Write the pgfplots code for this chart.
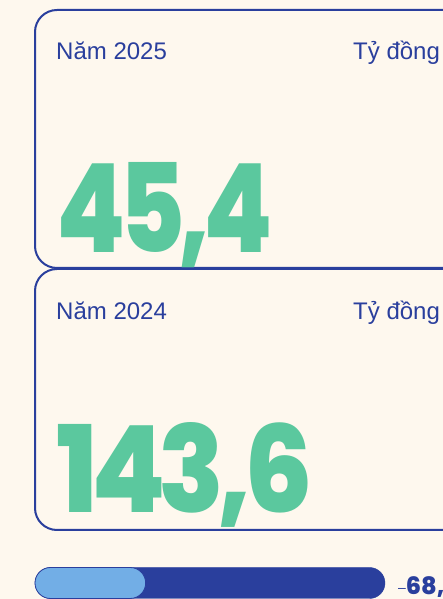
\documentclass[border=0pt]{standalone}
\usepackage{pgfplots}
\pgfplotsset{compat=1.18}
\usepackage{fontspec}
\setmainfont{Liberation Sans}
\newfontfamily\heavy{Poppins ExtraBold}
\definecolor{bgcream}{HTML}{FEF8EE}
\definecolor{navy}{HTML}{2A3F9D}
\definecolor{mint}{HTML}{5BC89E}
\definecolor{sky}{HTML}{72AEE6}

% y of a pixel row counted from the top
\newcommand{\py}[1]{599-#1}
\newcommand{\tk}{\kern-0.065em}

\begin{document}
\begin{tikzpicture}[x=1pt,y=1pt]
\useasboundingbox (0,0) rectangle (443,599);
\clip (0,0) rectangle (443,599);
\fill[bgcream] (-5,-5) rectangle (450,605);

% the two cards
\draw[navy, line width=2pt, rounded corners=22pt]
  (35,{\py{268}}) rectangle (480,{\py{10}});
\draw[navy, line width=2pt, rounded corners=22pt]
  (35,{\py{530}}) rectangle (480,{\py{269}});

\node[anchor=base west, text=navy, font=\fontsize{24}{28}\selectfont, inner sep=0]
  at (56,{\py{60}}) {Năm 2025};
\node[anchor=base west, text=navy, font=\fontsize{24}{28}\selectfont, inner sep=0]
  at (353,{\py{60}}) {Tỷ đồng};
\node[anchor=base west, text=navy, font=\fontsize{24}{28}\selectfont, inner sep=0]
  at (56,{\py{320}}) {Năm 2024};
\node[anchor=base west, text=navy, font=\fontsize{24}{28}\selectfont, inner sep=0]
  at (353,{\py{320}}) {Tỷ đồng};

\node[anchor=base west, text=mint, inner sep=0] at (56,{\py{253}})
  {\resizebox{217pt}{90pt}{\heavy 4\tk5\tk,\tk4}};
\node[anchor=base west, text=mint, inner sep=0] at (56,{\py{513}})
  {\resizebox{257pt}{90pt}{\heavy 1\tk4\tk3\tk,\tk6}};

% comparison bar
\begin{axis}[
    at={(35pt,0pt)}, anchor=south west,
    scale only axis, width=350pt, height=32pt,
    xmin=0, xmax=143.6, ymin=0, ymax=1,
    hide axis, clip=false,
    xbar, bar width=31pt, bar shift=0pt,
  ]
  \addplot[fill=navy, draw=navy, rounded corners=15.5pt] coordinates {(143.6,0.5)};
  \addplot[fill=sky, draw=navy, line width=0.8pt, rounded corners=15.5pt] coordinates {(45.4,0.5)};
\end{axis}
\node[anchor=base west, text=navy, inner sep=0] at (398,{\py{594}})
  {\fontsize{14}{16}\selectfont\raisebox{2pt}{\textendash}\heavy\fontsize{24}{28}\selectfont 68,4\%};
\end{tikzpicture}
\end{document}
